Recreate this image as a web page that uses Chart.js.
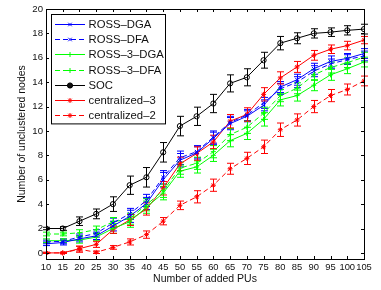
<!DOCTYPE html>
<html>
<head>
<meta charset="utf-8">
<script src="https://cdn.jsdelivr.net/npm/chart.js@4/dist/chart.umd.min.js"></script>
<style>
  html, body { margin: 0; padding: 0; background: #fff; }
  #wrap { width: 381px; height: 290px; }
</style>
</head>
<body>
<div id="wrap"><canvas id="chart" width="381" height="290"></canvas></div>
<script>
// x values: number of added PUs
var addedPUs = [10, 15, 20, 25, 30, 35, 40, 45, 50, 55, 60, 65, 70, 75, 80, 85, 90, 95, 100, 105];
var yTicks = [0, 2, 4, 6, 8, 10, 12, 14, 16, 18, 20];

var rossDGA = [0.75, 0.85, 1.15, 1.4, 2.2, 3.0, 4.05, 6.0, 7.6, 8.2, 9.4, 10.6, 11.2, 12.1, 13.6, 14.2, 15.1, 15.7, 15.95, 16.35];
var rossDGAErr = [0.15, 0.2, 0.25, 0.3, 0.4, 0.5, 0.5, 0.6, 0.55, 0.5, 0.5, 0.5, 0.45, 0.45, 0.45, 0.45, 0.45, 0.45, 0.4, 0.4];
var rossDFA = [0.9, 0.95, 1.3, 1.6, 2.45, 3.2, 4.3, 6.2, 7.8, 8.3, 9.5, 10.7, 11.3, 12.3, 13.45, 14.0, 14.9, 15.5, 15.85, 16.15];
var rossDFAErr = [0.15, 0.2, 0.25, 0.3, 0.4, 0.45, 0.5, 0.55, 0.55, 0.5, 0.5, 0.5, 0.45, 0.45, 0.45, 0.45, 0.45, 0.4, 0.4, 0.4];
var ross3DGA = [1.0, 1.0, 1.05, 1.3, 2.0, 2.55, 3.75, 4.9, 6.7, 7.05, 8.0, 9.2, 9.8, 10.95, 12.55, 12.9, 13.75, 14.6, 15.1, 15.65];
var ross3DGAErr = [0.15, 0.15, 0.25, 0.3, 0.4, 0.45, 0.5, 0.55, 0.5, 0.5, 0.5, 0.5, 0.5, 0.55, 0.5, 0.45, 0.45, 0.45, 0.4, 0.4];
var ross3DFA = [1.55, 1.55, 1.65, 1.9, 2.55, 2.8, 3.95, 5.1, 6.95, 7.35, 8.3, 9.7, 10.3, 11.45, 12.9, 13.5, 14.6, 15.2, 15.6, 16.05];
var ross3DFAErr = [0.15, 0.15, 0.25, 0.3, 0.35, 0.45, 0.5, 0.55, 0.5, 0.5, 0.5, 0.5, 0.5, 0.5, 0.5, 0.45, 0.45, 0.45, 0.4, 0.4];
var soc = [2.0, 2.0, 2.6, 3.2, 4.0, 5.55, 6.2, 8.25, 10.4, 11.2, 12.25, 13.9, 14.4, 15.8, 17.2, 17.6, 18.0, 18.1, 18.25, 18.35];
var socErr = [0.1, 0.15, 0.35, 0.4, 0.6, 0.75, 0.8, 0.8, 0.8, 0.75, 0.75, 0.7, 0.7, 0.65, 0.55, 0.45, 0.38, 0.35, 0.38, 0.4];
var central3 = [0, 0, 0.35, 0.7, 1.9, 2.7, 3.6, 5.3, 7.3, 8.15, 9.1, 10.8, 11.35, 13.0, 14.35, 15.25, 16.2, 16.7, 17.0, 17.45];
var central3Err = [0.05, 0.05, 0.2, 0.25, 0.3, 0.45, 0.5, 0.55, 0.55, 0.55, 0.55, 0.55, 0.55, 0.55, 0.5, 0.45, 0.4, 0.35, 0.35, 0.3];
var central2 = [0, 0, 0.3, 0.05, 0.45, 0.9, 1.5, 2.6, 3.9, 4.6, 5.55, 6.9, 7.75, 8.7, 10.1, 10.9, 12.0, 12.9, 13.4, 14.1];
var central2Err = [0.05, 0.05, 0.25, 0.1, 0.15, 0.25, 0.3, 0.3, 0.35, 0.5, 0.5, 0.45, 0.5, 0.55, 0.55, 0.5, 0.5, 0.5, 0.45, 0.4];

var FONT = '"Liberation Sans", Arial, Helvetica, sans-serif';

function toPoints(ys) {
    return ys.map(function (y, i) { return { x: addedPUs[i], y: y }; });
}

function series(label, ys, errs, color, dash, marker) {
    return {
        label: label,
        data: toPoints(ys),
        errors: errs,
        borderColor: color,
        backgroundColor: color,
        borderWidth: 1,
        borderDash: dash,
        pointStyle: marker,
        pointRadius: marker === 'circle' ? 2.6 : 2.5,
        pointBorderWidth: 1,
        pointBackgroundColor: marker === 'circle' ? 'rgba(0,0,0,0)' : color,
        tension: 0
    };
}

var datasets = [
    series('ROSS\u2013DGA', rossDGA, rossDGAErr, '#0000ff', [], 'crossRot'),
    series('ROSS\u2013DFA', rossDFA, rossDFAErr, '#0000ff', [5, 3], 'crossRot'),
    series('ROSS\u20133\u2013DGA', ross3DGA, ross3DGAErr, '#00ff00', [], 'cross'),
    series('ROSS\u20133\u2013DFA', ross3DFA, ross3DFAErr, '#00ff00', [5, 3], 'cross'),
    series('SOC', soc, socErr, '#000000', [], 'circle'),
    series('centralized\u20133', central3, central3Err, '#ff0000', [], 'star'),
    series('centralized\u20132', central2, central2Err, '#ff0000', [5, 3], 'star')
];

// Error bars with caps, placed through the chart's scales.
const errorBars = {
    id: 'errorBars',
    beforeDatasetsDraw(chart) {
        const ctx = chart.ctx;
        const xs = chart.scales.x, ys = chart.scales.y;
        chart.data.datasets.forEach(function (ds) {
            ctx.save();
            ctx.strokeStyle = ds.borderColor;
            ctx.lineWidth = 1;
            ctx.setLineDash([]);
            ds.data.forEach(function (p, i) {
                const e = ds.errors[i];
                const px = Math.round(xs.getPixelForValue(p.x)) + 0.5;
                const top = ys.getPixelForValue(p.y + e);
                const bot = ys.getPixelForValue(p.y - e);
                ctx.beginPath();
                ctx.moveTo(px, top); ctx.lineTo(px, bot);
                ctx.moveTo(px - 3.5, top); ctx.lineTo(px + 3.5, top);
                ctx.moveTo(px - 3.5, bot); ctx.lineTo(px + 3.5, bot);
                ctx.stroke();
            });
            ctx.restore();
        });
    }
};

// MATLAB-like box with inward ticks on all four sides.
const boxAxes = {
    id: 'boxAxes',
    afterDraw(chart) {
        const ctx = chart.ctx;
        const a = chart.chartArea;
        const xs = chart.scales.x, ys = chart.scales.y;
        ctx.save();
        ctx.strokeStyle = '#000';
        ctx.lineWidth = 1;
        ctx.strokeRect(Math.round(a.left) + 0.5, Math.round(a.top) + 0.5,
            Math.round(a.right - a.left), Math.round(a.bottom - a.top));
        ctx.beginPath();
        addedPUs.forEach(function (v) {
            const px = Math.round(xs.getPixelForValue(v)) + 0.5;
            ctx.moveTo(px, a.bottom); ctx.lineTo(px, a.bottom - 3);
            ctx.moveTo(px, a.top); ctx.lineTo(px, a.top + 3);
        });
        yTicks.forEach(function (v) {
            const py = Math.round(ys.getPixelForValue(v)) + 0.5;
            ctx.moveTo(a.left, py); ctx.lineTo(a.left + 3, py);
            ctx.moveTo(a.right, py); ctx.lineTo(a.right - 3, py);
        });
        ctx.stroke();
        ctx.restore();
    }
};

// Legend box inside the top-left corner of the plot.
const boxLegend = {
    id: 'boxLegend',
    afterDraw(chart) {
        const ctx = chart.ctx;
        const a = chart.chartArea;
        const x0 = a.left + 5, y0 = a.top + 4.5;
        const w = 114, rowH = 15.2;
        const h = rowH * chart.data.datasets.length + 3;
        ctx.save();
        ctx.fillStyle = '#fff';
        ctx.fillRect(x0, y0, w, h);
        ctx.strokeStyle = '#000';
        ctx.lineWidth = 1;
        ctx.strokeRect(Math.round(x0) + 0.5, Math.round(y0) + 0.5, w, h);
        ctx.font = '11.3px ' + FONT;
        ctx.textBaseline = 'middle';
        chart.data.datasets.forEach(function (ds, i) {
            const cy = Math.round(y0 + 10.5 + i * rowH) + 0.5;
            ctx.strokeStyle = ds.borderColor;
            ctx.setLineDash(ds.borderDash);
            ctx.beginPath();
            ctx.moveTo(x0 + 4, cy); ctx.lineTo(x0 + 34, cy);
            ctx.stroke();
            ctx.setLineDash([]);
            Chart.helpers.drawPoint(ctx, {
                pointStyle: ds.pointStyle, radius: ds.pointRadius,
                borderWidth: 1, rotation: 0
            }, x0 + 19, cy);
            ctx.fillStyle = '#111';
            ctx.fillText(ds.label, x0 + 37.5, cy + 0.5);
        });
        ctx.restore();
    }
};

const ctx = document.getElementById('chart').getContext('2d');
const myChart = new Chart(ctx, {
    type: 'line',
    data: { datasets: datasets },
    options: {
        responsive: false,
        animation: false,
        events: [],
        layout: { padding: { top: 9, right: 17, left: 0, bottom: 0 } },
        plugins: { legend: { display: false }, tooltip: { enabled: false } },
        scales: {
            x: {
                type: 'linear',
                min: 10, max: 105,
                grid: { display: false, drawTicks: false },
                border: { display: false },
                afterBuildTicks: function (scale) {
                    scale.ticks = addedPUs.map(function (v) { return { value: v }; });
                },
                afterFit: function (scale) { scale.height = 31; },
                ticks: {
                    autoSkip: false, maxRotation: 0, padding: 2.5,
                    color: '#111', font: { family: FONT, size: 9.4 }
                },
                title: {
                    display: true, text: 'Number of added PUs', color: '#111',
                    font: { family: FONT, size: 10.5 }, padding: { top: 0, bottom: 5 }
                }
            },
            y: {
                type: 'linear',
                min: -0.5, max: 20,
                grid: { display: false, drawTicks: false },
                border: { display: false },
                afterBuildTicks: function (scale) {
                    scale.ticks = yTicks.map(function (v) { return { value: v }; });
                },
                afterFit: function (scale) { scale.width = 46; },
                ticks: {
                    padding: 3, color: '#111', font: { family: FONT, size: 9.6 }
                },
                title: {
                    display: true, text: 'Number of unclustered nodes', color: '#111',
                    font: { family: FONT, size: 10.5 }, padding: { top: 16, bottom: 0 }
                }
            }
        }
    },
    plugins: [errorBars, boxAxes, boxLegend]
});
</script>
</body>
</html>
